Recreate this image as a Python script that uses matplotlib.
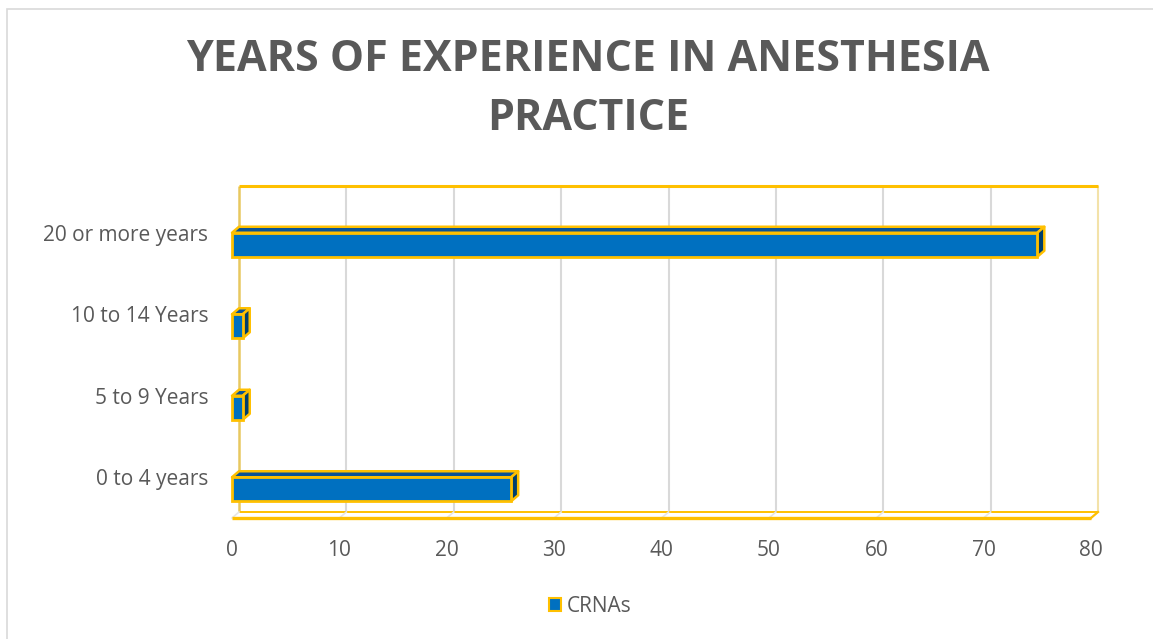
import matplotlib
matplotlib.use("Agg")
import matplotlib.pyplot as plt
from matplotlib.patches import Polygon, Rectangle
from matplotlib.transforms import ScaledTranslation

categories = ["0 to 4 years", "5 to 9 Years", "10 to 14 Years", "20 or more years"]
values = [26, 1, 1, 75]
series_name = "CRNAs"
x_ticks = [0, 10, 20, 30, 40, 50, 60, 70, 80]
title = "YEARS OF EXPERIENCE IN ANESTHESIA\nPRACTICE"

FRONT = "#0070C0"
TOP = "#0B5394"
SIDE = "#003F6E"
GOLD = "#FFC000"
TXT = "#595959"
GRID = "#D9D9D9"
FONT = ["Open Sans", "DejaVu Sans"]

W, H, DPI = 1153, 639, 100
fig = plt.figure(figsize=(W / DPI, H / DPI), dpi=DPI)
fig.patch.set_facecolor("white")

# chart-area border
fig.add_artist(Rectangle((7 / W, -0.01), 1.2, (H - 9) / H + 0.01, transform=fig.transFigure,
                         fill=False, edgecolor=GRID, lw=1.2))

x0, x1 = 232, 1091
ytop, ybot = 192, 518
ax = fig.add_axes([x0 / W, (H - ybot) / H, (x1 - x0) / W, (ybot - ytop) / H])
ax.set_xlim(0, 80)
ax.set_ylim(-0.5, 3.5)
for s in ax.spines.values():
    s.set_visible(False)
ax.set_facecolor("none")

DXP, DYP = 7, 6  # depth offset in pixels
px_per_x = (x1 - x0) / 80
px_per_y = (ybot - ytop) / 4
dx = DXP / px_per_x
dy = DYP / px_per_y
back = ax.transData + ScaledTranslation(DXP / DPI, DYP / DPI, fig.dpi_scale_trans)

# back wall gridlines and edges
ax.vlines(x_ticks[1:-1], -0.5, 3.5, colors=GRID, lw=1.5, transform=back, zorder=1, clip_on=False)
ax.vlines([80], -0.5, 3.5, colors="#F3E2A9", lw=1.5, transform=back, zorder=1, clip_on=False)
ax.vlines([0], -0.5, 3.5, colors="#E8C860", lw=1.8, transform=back, zorder=1, clip_on=False)
ax.hlines([3.5], 0, 80, colors=GOLD, lw=2.2, transform=back, zorder=1, clip_on=False)
# floor
ax.hlines([-0.5], 0, 80, colors=GOLD, lw=1.4, transform=back, zorder=1, clip_on=False)
ax.hlines([-0.5], 0, 80, colors=GOLD, lw=2.4, zorder=2, clip_on=False)
for t in x_ticks:
    ax.plot([t, t + dx], [-0.5, -0.5 + dy], color="#E6E6E6", lw=1.2, zorder=1.5, clip_on=False)
ax.plot([80, 80 + dx], [-0.5, -0.5 + dy], color=GOLD, lw=1.6, zorder=2, clip_on=False)

# bars
ypos = list(range(len(categories)))
bh = 24 / px_per_y
shift = 12 / px_per_y
centers = [y - shift for y in ypos]
for yc, v in zip(centers, values):
    yb, yt = yc - bh / 2, yc + bh / 2
    top = Polygon([(0, yt), (v, yt), (v + dx, yt + dy), (dx, yt + dy)], closed=True,
                  facecolor=TOP, edgecolor=GOLD, lw=1.8, zorder=3, clip_on=False, joinstyle="round")
    side = Polygon([(v, yb), (v, yt), (v + dx, yt + dy), (v + dx, yb + dy)], closed=True,
                   facecolor=SIDE, edgecolor=GOLD, lw=1.8, zorder=3, clip_on=False, joinstyle="round")
    ax.add_patch(top)
    ax.add_patch(side)
ax.barh(centers, values, height=bh, color=FRONT, edgecolor=GOLD, linewidth=2.0, zorder=4, clip_on=False)

ax.set_yticks(ypos)
ax.set_yticklabels(categories)
ax.set_xticks(x_ticks)
ax.set_xticklabels([str(t) for t in x_ticks])
ax.tick_params(axis="y", length=0, pad=17, labelsize=15, labelcolor=TXT)
ax.tick_params(axis="x", length=0, pad=16, labelsize=15, labelcolor=TXT)
for lab in ax.get_xticklabels() + ax.get_yticklabels():
    lab.set_family(FONT)

fig.text(588 / W, 1 - 89 / H, title, ha="center", va="center", fontsize=31, fontweight="bold",
         color=TXT, family=FONT, linespacing=1.5, multialignment="center")

# legend
leg = ax.legend(handles=[Rectangle((0, 0), 1, 1, facecolor=FRONT, edgecolor=GOLD, lw=1.5)],
                labels=[series_name], loc="center", bbox_to_anchor=(590 / W, (H - 606) / H),
                bbox_transform=fig.transFigure, frameon=False, handlelength=0.6, handleheight=0.6,
                handletextpad=0.25, prop={"family": FONT, "size": 15})
for t in leg.get_texts():
    t.set_color(TXT)

fig.savefig("out.png", dpi=DPI)
